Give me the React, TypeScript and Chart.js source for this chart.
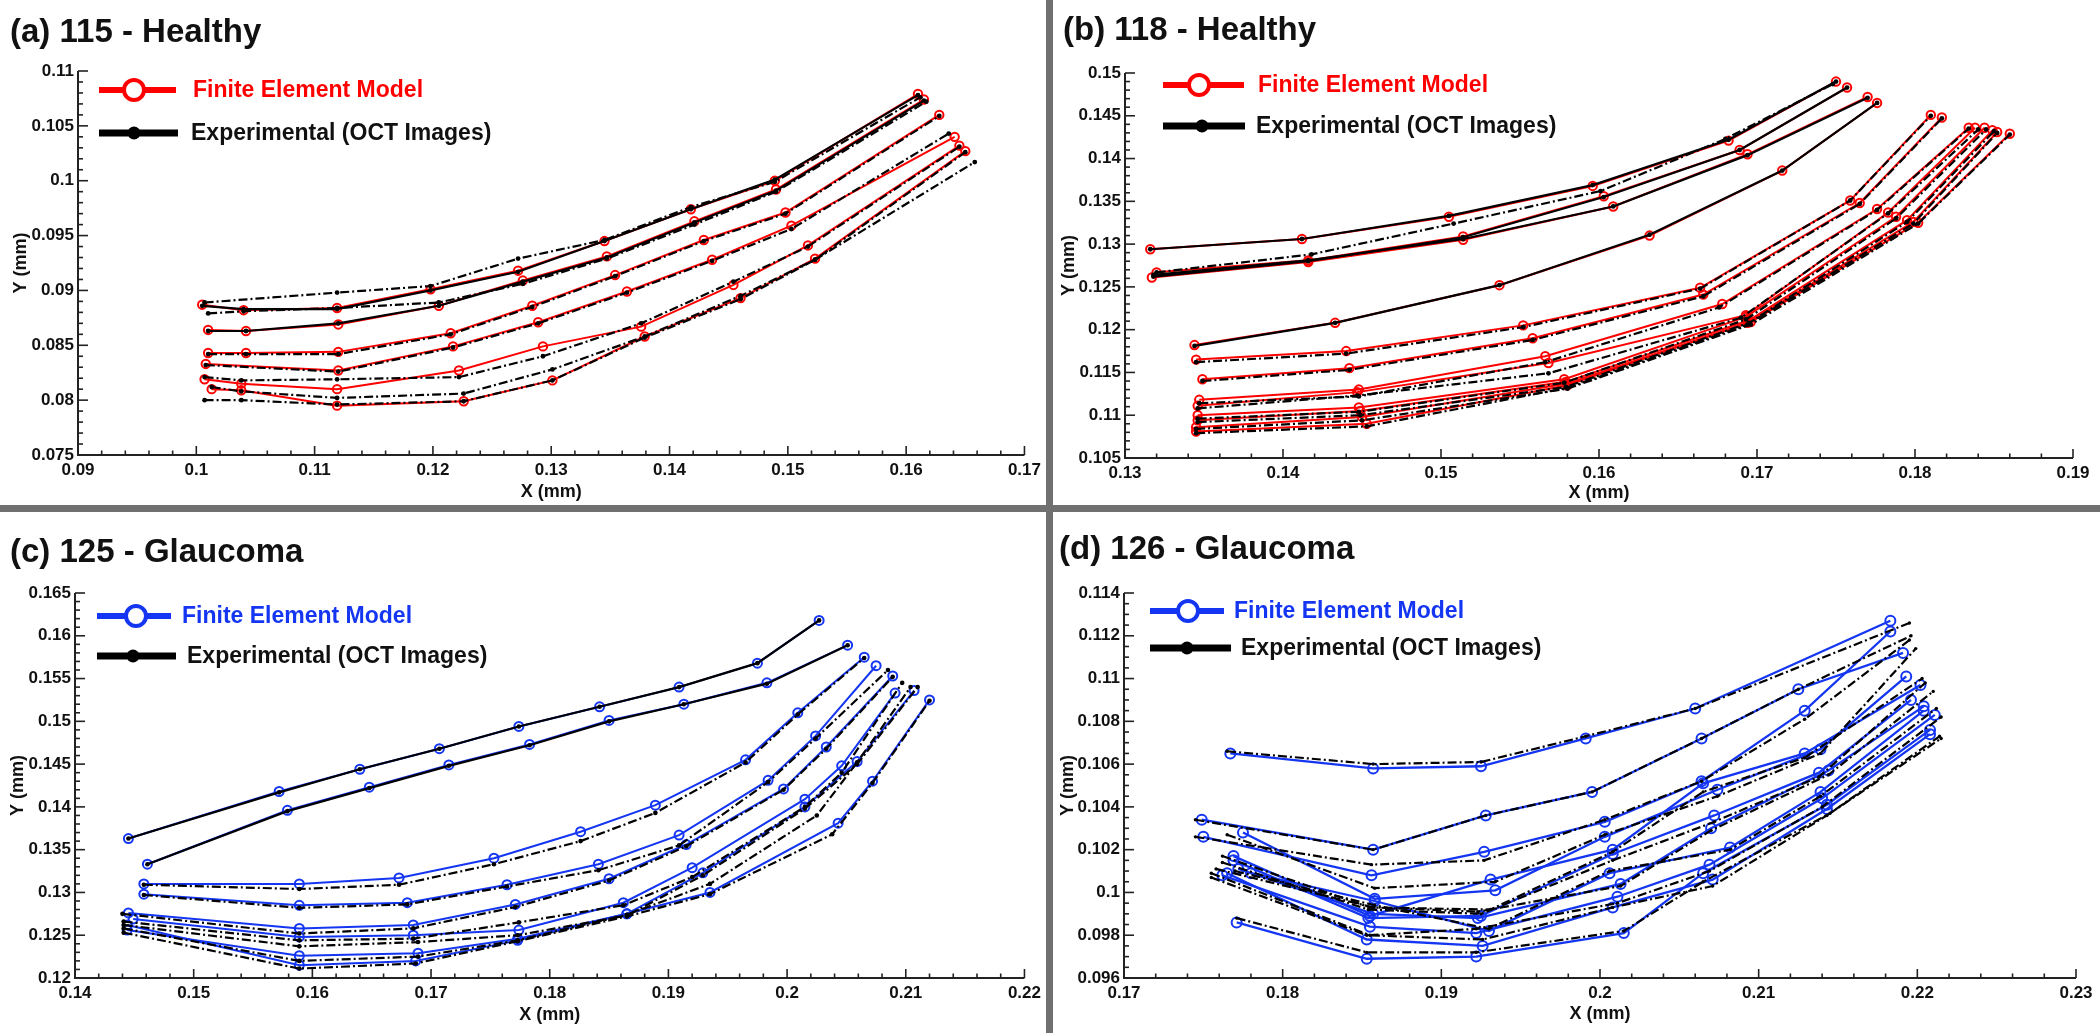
import React, { useEffect, useRef } from "react";
import { Chart, registerables } from "chart.js";

Chart.register(...registerables);

type Pt = [number, number];

// ---------------- (a) 115 - Healthy ----------------
const a115XTicks = [0.09, 0.1, 0.11, 0.12, 0.13, 0.14, 0.15, 0.16, 0.17];
const a115YTicks = [0.075, 0.08, 0.085, 0.09, 0.095, 0.1, 0.105, 0.11];
const a115Model: Pt[][] = [
  [[0.1005, 0.0887], [0.104, 0.0882], [0.1119, 0.0884], [0.1198, 0.0901], [0.1272, 0.0918], [0.1345, 0.0945], [0.1418, 0.0974], [0.1489, 0.1], [0.161, 0.1079]],
  [[0.101, 0.0864], [0.1042, 0.0863], [0.112, 0.0869], [0.1205, 0.0886], [0.1276, 0.0909], [0.1347, 0.0931], [0.1421, 0.0963], [0.149, 0.0992], [0.1615, 0.1074]],
  [[0.101, 0.0843], [0.1042, 0.0843], [0.112, 0.0844], [0.1215, 0.0861], [0.1284, 0.0886], [0.1354, 0.0914], [0.1429, 0.0946], [0.1498, 0.0971], [0.1628, 0.106]],
  [[0.1008, 0.0833], [0.112, 0.0827], [0.1217, 0.0849], [0.1289, 0.0871], [0.1364, 0.0899], [0.1436, 0.0928], [0.1503, 0.0959], [0.1641, 0.104]],
  [[0.1007, 0.0819], [0.1038, 0.0815], [0.1119, 0.081], [0.1222, 0.0827], [0.1293, 0.0849], [0.1376, 0.0867], [0.1454, 0.0905], [0.1517, 0.0941], [0.1645, 0.1032]],
  [[0.1013, 0.081], [0.1038, 0.0809], [0.1119, 0.0795], [0.1226, 0.0799], [0.1301, 0.0818], [0.1379, 0.0858], [0.146, 0.0893], [0.1523, 0.0929], [0.165, 0.1027]],
];
const a115Exp: Pt[][] = [
  [[0.1005, 0.0886], [0.104, 0.0883], [0.1119, 0.0883], [0.1198, 0.09], [0.1272, 0.0917], [0.1345, 0.0945], [0.1418, 0.0974], [0.1489, 0.1001], [0.161, 0.1078]],
  [[0.101, 0.0863], [0.1042, 0.0863], [0.112, 0.087], [0.1205, 0.0886], [0.1276, 0.0908], [0.1347, 0.093], [0.1421, 0.0962], [0.149, 0.0991], [0.1615, 0.1073]],
  [[0.1007, 0.0889], [0.1119, 0.0898], [0.1198, 0.0904], [0.1272, 0.0929], [0.1345, 0.0946], [0.1418, 0.0976], [0.1489, 0.0999], [0.1612, 0.1076]],
  [[0.101, 0.0879], [0.104, 0.0881], [0.1119, 0.0884], [0.1205, 0.0889], [0.1276, 0.0906], [0.1347, 0.0929], [0.1421, 0.096], [0.149, 0.099], [0.1617, 0.1072]],
  [[0.101, 0.0842], [0.1042, 0.0842], [0.112, 0.0842], [0.1215, 0.086], [0.1284, 0.0885], [0.1354, 0.0913], [0.1429, 0.0945], [0.1498, 0.097], [0.1628, 0.1059]],
  [[0.1008, 0.0832], [0.112, 0.0826], [0.1217, 0.0848], [0.1289, 0.087], [0.1364, 0.0898], [0.1436, 0.0927], [0.1503, 0.0956], [0.1636, 0.1043]],
  [[0.1007, 0.0821], [0.1038, 0.0818], [0.1119, 0.0819], [0.1222, 0.0821], [0.1293, 0.084], [0.1376, 0.087], [0.1454, 0.0908], [0.1517, 0.094], [0.1645, 0.1031]],
  [[0.1013, 0.0812], [0.1038, 0.0808], [0.1119, 0.0802], [0.1226, 0.0806], [0.1301, 0.0828], [0.1379, 0.0858], [0.146, 0.0895], [0.1523, 0.0928], [0.1658, 0.1017]],
  [[0.1007, 0.08], [0.1038, 0.08], [0.1119, 0.0796], [0.1226, 0.0799], [0.1301, 0.0818], [0.1379, 0.0857], [0.146, 0.0892], [0.1523, 0.0928], [0.165, 0.1026]],
];

// ---------------- (b) 118 - Healthy ----------------
const b118XTicks = [0.13, 0.14, 0.15, 0.16, 0.17, 0.18, 0.19];
const b118YTicks = [0.105, 0.11, 0.115, 0.12, 0.125, 0.13, 0.135, 0.14, 0.145, 0.15];
const b118Model: Pt[][] = [
  [[0.1316, 0.1294], [0.1412, 0.1306], [0.1505, 0.1332], [0.1596, 0.1368], [0.1682, 0.1421], [0.175, 0.149]],
  [[0.132, 0.1267], [0.1416, 0.1281], [0.1514, 0.1309], [0.1603, 0.1356], [0.1689, 0.141], [0.1757, 0.1483]],
  [[0.1317, 0.1261], [0.1416, 0.1279], [0.1514, 0.1305], [0.1609, 0.1344], [0.1694, 0.1405], [0.177, 0.1472]],
  [[0.1344, 0.1182], [0.1433, 0.1208], [0.1537, 0.1252], [0.1632, 0.131], [0.1716, 0.1386], [0.1776, 0.1465]],
  [[0.1345, 0.1165], [0.144, 0.1175], [0.1552, 0.1205], [0.1664, 0.1249], [0.1759, 0.1351], [0.181, 0.1451]],
  [[0.1349, 0.1142], [0.1442, 0.1155], [0.1558, 0.119], [0.1666, 0.1241], [0.1765, 0.1348], [0.1817, 0.1448]],
  [[0.1347, 0.1118], [0.1448, 0.113], [0.1566, 0.1169], [0.1678, 0.123], [0.1776, 0.1341], [0.1834, 0.1436]],
  [[0.1346, 0.1111], [0.1447, 0.1127], [0.1568, 0.1161], [0.1693, 0.1217], [0.1783, 0.1337], [0.1838, 0.1436]],
  [[0.1346, 0.11], [0.1448, 0.1109], [0.1578, 0.1142], [0.1693, 0.1215], [0.1788, 0.1332], [0.1844, 0.1436]],
  [[0.1346, 0.1094], [0.1449, 0.1105], [0.1579, 0.1139], [0.1695, 0.1211], [0.1795, 0.1328], [0.1849, 0.1433]],
  [[0.1345, 0.1086], [0.145, 0.1098], [0.158, 0.1137], [0.1696, 0.1209], [0.1802, 0.1325], [0.186, 0.1429]],
  [[0.1345, 0.1081], [0.1453, 0.109], [0.158, 0.1135], [0.1694, 0.1208], [0.1799, 0.1326], [0.1852, 0.1431]],
];
const b118Exp: Pt[][] = [
  [[0.1316, 0.1294], [0.1412, 0.1306], [0.1505, 0.1333], [0.1596, 0.1369], [0.1682, 0.1422], [0.175, 0.149]],
  [[0.1318, 0.1262], [0.1416, 0.128], [0.1514, 0.1308], [0.1603, 0.1355], [0.1689, 0.141], [0.1757, 0.1483]],
  [[0.1318, 0.1264], [0.1416, 0.1281], [0.1514, 0.1306], [0.1609, 0.1344], [0.1694, 0.1404], [0.177, 0.1471]],
  [[0.1344, 0.1181], [0.1433, 0.1208], [0.1537, 0.1252], [0.1632, 0.1311], [0.1716, 0.1386], [0.1776, 0.1465]],
  [[0.132, 0.1267], [0.1418, 0.1288], [0.1508, 0.1324], [0.1601, 0.1362], [0.168, 0.1423], [0.1748, 0.1487]],
  [[0.1345, 0.1162], [0.144, 0.1172], [0.1552, 0.1203], [0.1664, 0.1248], [0.1759, 0.1351], [0.181, 0.145]],
  [[0.1349, 0.114], [0.1442, 0.1153], [0.1558, 0.1188], [0.1666, 0.1239], [0.1765, 0.1347], [0.1817, 0.1447]],
  [[0.1347, 0.1114], [0.1448, 0.1122], [0.1566, 0.1162], [0.1676, 0.1226], [0.1776, 0.134], [0.1834, 0.1435]],
  [[0.1346, 0.1108], [0.1447, 0.1123], [0.1568, 0.1149], [0.169, 0.1214], [0.1783, 0.1336], [0.184, 0.1434]],
  [[0.1346, 0.1096], [0.1448, 0.1104], [0.1578, 0.1138], [0.1693, 0.1212], [0.1788, 0.133], [0.1845, 0.1434]],
  [[0.1346, 0.1092], [0.1449, 0.11], [0.1579, 0.1133], [0.1695, 0.1208], [0.1795, 0.1326], [0.185, 0.1432]],
  [[0.1345, 0.1084], [0.145, 0.1094], [0.158, 0.1131], [0.1696, 0.1206], [0.1802, 0.1324], [0.186, 0.1428]],
  [[0.1345, 0.1079], [0.1453, 0.1087], [0.158, 0.1132], [0.1694, 0.1206], [0.1799, 0.1324], [0.1852, 0.143]],
];

// ---------------- (c) 125 - Glaucoma ----------------
const c125XTicks = [0.14, 0.15, 0.16, 0.17, 0.18, 0.19, 0.2, 0.21, 0.22];
const c125YTicks = [0.12, 0.125, 0.13, 0.135, 0.14, 0.145, 0.15, 0.155, 0.16, 0.165];
const c125Model: Pt[][] = [
  [[0.1445, 0.1363], [0.1572, 0.1418], [0.164, 0.1444], [0.1707, 0.1468], [0.1774, 0.1494], [0.1842, 0.1517], [0.1909, 0.154], [0.1975, 0.1568], [0.2027, 0.1618]],
  [[0.1461, 0.1333], [0.1579, 0.1396], [0.1648, 0.1423], [0.1715, 0.1449], [0.1783, 0.1473], [0.185, 0.1501], [0.1913, 0.152], [0.1983, 0.1545], [0.2051, 0.1589]],
  [[0.1458, 0.131], [0.1589, 0.131], [0.1673, 0.1317], [0.1753, 0.134], [0.1826, 0.1371], [0.1889, 0.1402], [0.1965, 0.1455], [0.2009, 0.151], [0.2065, 0.1575]],
  [[0.1458, 0.1298], [0.1589, 0.1285], [0.168, 0.1288], [0.1764, 0.1309], [0.1841, 0.1333], [0.1909, 0.1367], [0.1984, 0.1431], [0.2024, 0.1483], [0.2075, 0.1565]],
  [[0.1445, 0.1276], [0.1589, 0.1258], [0.1685, 0.1262], [0.1771, 0.1286], [0.185, 0.1316], [0.1915, 0.1356], [0.1997, 0.1421], [0.2033, 0.147], [0.2089, 0.1553]],
  [[0.1449, 0.1269], [0.1589, 0.1248], [0.1685, 0.125], [0.1774, 0.1256], [0.1862, 0.1288], [0.192, 0.1329], [0.2015, 0.1409], [0.2046, 0.1448], [0.2091, 0.1533]],
  [[0.1444, 0.1256], [0.1589, 0.1226], [0.1689, 0.1229], [0.1773, 0.1246], [0.1865, 0.1275], [0.1929, 0.1323], [0.2015, 0.14], [0.2059, 0.1453], [0.2107, 0.1536]],
  [[0.1444, 0.1262], [0.1589, 0.1215], [0.1687, 0.122], [0.1773, 0.1244], [0.1865, 0.1275], [0.1935, 0.13], [0.2043, 0.1381], [0.2072, 0.143], [0.212, 0.1525]],
];
const c125Exp: Pt[][] = [
  [[0.1445, 0.1363], [0.1572, 0.1417], [0.164, 0.1444], [0.1707, 0.1468], [0.1774, 0.1494], [0.1842, 0.1517], [0.1909, 0.154], [0.1975, 0.1568], [0.2027, 0.1618]],
  [[0.1461, 0.1333], [0.1579, 0.1395], [0.1648, 0.1422], [0.1715, 0.1448], [0.1783, 0.1472], [0.185, 0.15], [0.1913, 0.152], [0.1983, 0.1544], [0.2051, 0.1589]],
  [[0.1458, 0.1309], [0.1589, 0.1304], [0.1673, 0.1309], [0.1753, 0.1333], [0.1826, 0.136], [0.1889, 0.1393], [0.1965, 0.1452], [0.2009, 0.1508], [0.2065, 0.1574]],
  [[0.1458, 0.1297], [0.1589, 0.1282], [0.168, 0.1286], [0.1764, 0.1307], [0.1841, 0.1326], [0.1909, 0.1355], [0.1984, 0.1429], [0.2024, 0.148], [0.2085, 0.156]],
  [[0.144, 0.1275], [0.1589, 0.1252], [0.1685, 0.1258], [0.1771, 0.1283], [0.185, 0.1314], [0.1915, 0.1354], [0.1997, 0.142], [0.2033, 0.1468], [0.2089, 0.1552]],
  [[0.1441, 0.1266], [0.1589, 0.1244], [0.1685, 0.1246], [0.1774, 0.1265], [0.1862, 0.1285], [0.192, 0.1318], [0.2015, 0.14], [0.2046, 0.144], [0.2097, 0.1545]],
  [[0.1441, 0.1262], [0.1589, 0.1237], [0.1689, 0.1242], [0.1773, 0.125], [0.1865, 0.1273], [0.1929, 0.132], [0.2015, 0.1398], [0.2059, 0.145], [0.211, 0.154]],
  [[0.1441, 0.1253], [0.1589, 0.1211], [0.1687, 0.1217], [0.1773, 0.1243], [0.1865, 0.1272], [0.1935, 0.1298], [0.2038, 0.1368], [0.2072, 0.1428], [0.212, 0.1524]],
  [[0.1441, 0.1258], [0.1589, 0.122], [0.1689, 0.1225], [0.1773, 0.1244], [0.1865, 0.1274], [0.1935, 0.131], [0.2025, 0.139], [0.2059, 0.1452], [0.2104, 0.154]],
];

// ---------------- (d) 126 - Glaucoma ----------------
const d126XTicks = [0.17, 0.18, 0.19, 0.2, 0.21, 0.22, 0.23];
const d126YTicks = [0.096, 0.098, 0.1, 0.102, 0.104, 0.106, 0.108, 0.11, 0.112, 0.114];
const d126Model: Pt[][] = [
  [[0.1767, 0.1065], [0.1857, 0.1058], [0.1925, 0.1059], [0.1991, 0.1072], [0.206, 0.1086], [0.2183, 0.1127]],
  [[0.1749, 0.1034], [0.1857, 0.102], [0.1928, 0.1036], [0.1995, 0.1047], [0.2064, 0.1072], [0.2125, 0.1095], [0.2191, 0.1112]],
  [[0.175, 0.1026], [0.1856, 0.1008], [0.1927, 0.1019], [0.2003, 0.1033], [0.2064, 0.1052], [0.2129, 0.1085], [0.2183, 0.1122]],
  [[0.1775, 0.1028], [0.1858, 0.0997], [0.1934, 0.1001], [0.2003, 0.1026], [0.2074, 0.1048], [0.2139, 0.1067], [0.2193, 0.1101]],
  [[0.1769, 0.1017], [0.1855, 0.0989], [0.1931, 0.1006], [0.2008, 0.102], [0.2065, 0.1051], [0.2129, 0.1065], [0.2202, 0.1097]],
  [[0.1769, 0.1015], [0.1854, 0.0988], [0.1925, 0.0989], [0.2008, 0.1018], [0.2072, 0.1036], [0.2138, 0.1056], [0.2196, 0.109]],
  [[0.1772, 0.1011], [0.1857, 0.099], [0.1923, 0.0988], [0.2013, 0.1004], [0.207, 0.103], [0.2144, 0.1057], [0.2204, 0.1087]],
  [[0.178, 0.1009], [0.1858, 0.0996], [0.193, 0.0982], [0.2006, 0.1009], [0.2082, 0.1021], [0.2139, 0.1047], [0.2204, 0.1085]],
  [[0.1762, 0.1008], [0.1855, 0.0984], [0.1922, 0.0981], [0.2011, 0.0998], [0.2069, 0.1013], [0.214, 0.1044], [0.2211, 0.1083]],
  [[0.1765, 0.1009], [0.1853, 0.0978], [0.1926, 0.0975], [0.2008, 0.0993], [0.2071, 0.1006], [0.2143, 0.1039], [0.2208, 0.1074]],
  [[0.1771, 0.0986], [0.1853, 0.0969], [0.1922, 0.097], [0.2015, 0.0981], [0.2065, 0.1009], [0.2143, 0.1041], [0.2208, 0.1076]],
];
const d126Exp: Pt[][] = [
  [[0.1765, 0.1066], [0.1857, 0.106], [0.1925, 0.1061], [0.1991, 0.1073], [0.206, 0.1086], [0.2195, 0.1126]],
  [[0.1745, 0.1034], [0.1857, 0.102], [0.1928, 0.1036], [0.1995, 0.1047], [0.2064, 0.1072], [0.2125, 0.1095], [0.2196, 0.112]],
  [[0.1745, 0.1026], [0.1856, 0.1013], [0.1927, 0.1015], [0.2003, 0.1034], [0.2064, 0.1052], [0.2129, 0.1081], [0.2195, 0.1118]],
  [[0.1765, 0.1027], [0.1858, 0.1002], [0.1934, 0.1005], [0.2003, 0.1027], [0.2074, 0.1045], [0.2139, 0.1065], [0.2199, 0.1114]],
  [[0.1762, 0.1017], [0.1855, 0.0993], [0.1931, 0.0992], [0.2008, 0.1019], [0.2065, 0.1047], [0.2129, 0.1063], [0.2203, 0.11]],
  [[0.1762, 0.1014], [0.1854, 0.0992], [0.1925, 0.099], [0.2008, 0.1015], [0.2072, 0.1033], [0.2138, 0.1054], [0.2205, 0.1098]],
  [[0.1758, 0.1011], [0.1857, 0.0993], [0.1923, 0.0991], [0.2013, 0.1003], [0.207, 0.1029], [0.2144, 0.1055], [0.221, 0.1094]],
  [[0.177, 0.101], [0.1858, 0.0994], [0.193, 0.0983], [0.2006, 0.101], [0.2082, 0.102], [0.2139, 0.1045], [0.2212, 0.1086]],
  [[0.1755, 0.1009], [0.1855, 0.098], [0.1922, 0.0983], [0.2011, 0.0995], [0.2069, 0.101], [0.214, 0.104], [0.2215, 0.1082]],
  [[0.1755, 0.1007], [0.1853, 0.098], [0.1926, 0.0978], [0.2008, 0.0993], [0.2071, 0.1003], [0.2143, 0.1036], [0.2214, 0.1073]],
  [[0.1771, 0.0988], [0.1853, 0.0972], [0.1922, 0.0972], [0.2015, 0.0982], [0.2065, 0.1005], [0.2145, 0.1037], [0.2215, 0.1072]],
];

const MODEL_LABEL = "Finite Element Model";
const EXP_LABEL = "Experimental (OCT Images)";

// ---------------- layout / style ----------------
const FONT = "'Liberation Sans', Arial, Helvetica, sans-serif";
const RED = "#ff0000";
const BLUE = "#1436f2";
const DIVIDER = "#707070";

interface Spec {
  title: string;
  left: number; top: number; width: number; height: number;
  area: { l: number; r: number; t: number; b: number };
  xTicks: number[]; yTicks: number[]; xMinor: number; yMinor: number;
  model: Pt[][]; exp: Pt[][]; expSolid: number;
  color: string;
  titleX: number; titleBase: number;
  xTitlePad: number; yTitlePad: number;
  modelR: number; expR: number; modelW: number;
  leg: { x0: number; x1: number; cx: number; y1: number; t1: number; x1e: number; dx: number; y2: number; t2: number };
}

const specs: Spec[] = [
  {
    title: "(a) 115 - Healthy", left: 0, top: 0, width: 1046, height: 505,
    area: { l: 78, r: 1025, t: 71, b: 455 },
    xTicks: a115XTicks, yTicks: a115YTicks, xMinor: 5, yMinor: 5,
    model: a115Model, exp: a115Exp, expSolid: 2, color: RED,
    titleX: 10, titleBase: 42, xTitlePad: 2, yTitlePad: 10, modelR: 4.2, expR: 2.4, modelW: 2,
    leg: { x0: 21, x1: 98, cx: 56, y1: 19, t1: 115, x1e: 100, dx: 56, y2: 62, t2: 113 },
  },
  {
    title: "(b) 118 - Healthy", left: 1053, top: 0, width: 1047, height: 505,
    area: { l: 72, r: 1020, t: 73, b: 458 },
    xTicks: b118XTicks, yTicks: b118YTicks, xMinor: 5, yMinor: 5,
    model: b118Model, exp: b118Exp, expSolid: 4, color: RED,
    titleX: 10, titleBase: 40, xTitlePad: 1, yTitlePad: 5, modelR: 4.2, expR: 2.4, modelW: 2,
    leg: { x0: 38, x1: 119, cx: 74, y1: 12, t1: 133, x1e: 120, dx: 77, y2: 53, t2: 131 },
  },
  {
    title: "(c) 125 - Glaucoma", left: 0, top: 512, width: 1046, height: 521,
    area: { l: 75, r: 1025, t: 81, b: 466 },
    xTicks: c125XTicks, yTicks: c125YTicks, xMinor: 5, yMinor: 5,
    model: c125Model, exp: c125Exp, expSolid: 2, color: BLUE,
    titleX: 10, titleBase: 50, xTitlePad: 7, yTitlePad: 7, modelR: 4.5, expR: 2.3, modelW: 2,
    leg: { x0: 22, x1: 96, cx: 61, y1: 23, t1: 107, x1e: 101, dx: 58, y2: 63, t2: 112 },
  },
  {
    title: "(d) 126 - Glaucoma", left: 1053, top: 512, width: 1047, height: 521,
    area: { l: 71, r: 1023, t: 81, b: 466 },
    xTicks: d126XTicks, yTicks: d126YTicks, xMinor: 5, yMinor: 4,
    model: d126Model, exp: d126Exp, expSolid: 0, color: BLUE,
    titleX: 6, titleBase: 47, xTitlePad: 8, yTitlePad: 4, modelR: 5, expR: 1.7, modelW: 2.3,
    leg: { x0: 26, x1: 100, cx: 64, y1: 18, t1: 110, x1e: 107, dx: 63, y2: 55, t2: 117 },
  },
];

const fmt = (v: number | string) => String(parseFloat(Number(v).toFixed(4)));

function makeDecor(spec: Spec) {
  return {
    id: "decor",
    afterDraw(chart: any) {
      const { ctx, chartArea: ca, scales } = chart;
      const xs = scales.x;
      const ys = scales.y;
      ctx.save();
      const seg = (x1: number, y1: number, x2: number, y2: number) => {
        ctx.beginPath();
        ctx.moveTo(x1, y1);
        ctx.lineTo(x2, y2);
        ctx.stroke();
      };
      // axes
      ctx.strokeStyle = "#222";
      ctx.lineWidth = 2;
      ctx.beginPath();
      ctx.moveTo(ca.left, ca.top);
      ctx.lineTo(ca.left, ca.bottom);
      ctx.lineTo(ca.right, ca.bottom);
      ctx.stroke();
      ctx.lineWidth = 1.6;
      const xt = spec.xTicks;
      for (let i = 0; i < xt.length; i++) {
        const p = xs.getPixelForValue(xt[i]);
        seg(p, ca.bottom, p, ca.bottom - 9);
        if (i < xt.length - 1) {
          for (let k = 1; k < spec.xMinor; k++) {
            const q = xs.getPixelForValue(xt[i] + ((xt[i + 1] - xt[i]) * k) / spec.xMinor);
            seg(q, ca.bottom, q, ca.bottom - 4.5);
          }
        }
      }
      const yt = spec.yTicks;
      for (let i = 0; i < yt.length; i++) {
        const p = ys.getPixelForValue(yt[i]);
        seg(ca.left, p, ca.left + 10, p);
        if (i < yt.length - 1) {
          for (let k = 1; k < spec.yMinor; k++) {
            const q = ys.getPixelForValue(yt[i] + ((yt[i + 1] - yt[i]) * k) / spec.yMinor);
            seg(ca.left, q, ca.left + 5, q);
          }
        }
      }
      // title
      ctx.fillStyle = "#111";
      ctx.font = `bold 33px ${FONT}`;
      ctx.textBaseline = "alphabetic";
      ctx.textAlign = "left";
      ctx.fillText(spec.title, spec.titleX, spec.titleBase);
      // legend
      const L = spec.leg;
      const y1 = ca.top + L.y1;
      const y2 = ca.top + L.y2;
      ctx.strokeStyle = spec.color;
      ctx.lineWidth = 6;
      seg(ca.left + L.x0, y1, ca.left + L.x1, y1);
      ctx.beginPath();
      ctx.arc(ca.left + L.cx, y1, 10, 0, Math.PI * 2);
      ctx.fillStyle = "#fff";
      ctx.fill();
      ctx.lineWidth = 4;
      ctx.stroke();
      ctx.font = `bold 23px ${FONT}`;
      ctx.textBaseline = "middle";
      ctx.fillStyle = spec.color;
      ctx.fillText(MODEL_LABEL, ca.left + L.t1, y1 + 1);
      ctx.strokeStyle = "#000";
      ctx.lineWidth = 7;
      seg(ca.left + L.x0, y2, ca.left + L.x1e, y2);
      ctx.beginPath();
      ctx.arc(ca.left + L.dx, y2, 6.5, 0, Math.PI * 2);
      ctx.fillStyle = "#000";
      ctx.fill();
      ctx.fillStyle = "#111";
      ctx.fillText(EXP_LABEL, ca.left + L.t2, y2 + 1);
      ctx.restore();
    },
  };
}

function Panel({ spec }: { spec: Spec }) {
  const ref = useRef<HTMLCanvasElement | null>(null);
  useEffect(() => {
    if (!ref.current) return;
    const datasets: any[] = [];
    spec.exp.forEach((curve, i) => {
      datasets.push({
        data: curve.map(([x, y]) => ({ x, y })),
        showLine: true,
        borderColor: "#000",
        backgroundColor: "#000",
        borderWidth: 2.2,
        borderDash: i < spec.expSolid ? [] : [9, 3, 2, 3],
        pointRadius: spec.expR,
        pointBorderWidth: 0,
        pointBackgroundColor: "#000",
        tension: 0,
        order: 0,
      });
    });
    spec.model.forEach((curve) => {
      datasets.push({
        data: curve.map(([x, y]) => ({ x, y })),
        showLine: true,
        borderColor: spec.color,
        backgroundColor: "rgba(255,255,255,0)",
        borderWidth: spec.modelW,
        pointRadius: spec.modelR,
        pointBorderWidth: 2,
        pointBorderColor: spec.color,
        pointBackgroundColor: "rgba(255,255,255,0)",
        tension: 0,
        order: 1,
      });
    });
    const tickFont = { family: FONT, size: 17, weight: "bold" as const };
    const titleFont = { family: FONT, size: 18, weight: "bold" as const };
    const chart = new Chart(ref.current, {
      type: "scatter",
      data: { datasets },
      options: {
        responsive: false,
        animation: false,
        devicePixelRatio: 1,
        layout: { padding: { left: 0, top: spec.area.t, right: spec.width - spec.area.r, bottom: 0 } },
        plugins: { legend: { display: false }, tooltip: { enabled: false } },
        scales: {
          x: {
            type: "linear",
            min: spec.xTicks[0],
            max: spec.xTicks[spec.xTicks.length - 1],
            afterBuildTicks: (s: any) => {
              s.ticks = spec.xTicks.map((v) => ({ value: v }));
            },
            afterFit: (s: any) => {
              s.height = spec.height - spec.area.b;
            },
            grid: { display: false, drawTicks: false },
            border: { display: false },
            ticks: { autoSkip: false, maxRotation: 0, padding: 5, color: "#111", font: tickFont, callback: (v: any) => fmt(v) },
            title: { display: true, text: "X (mm)", color: "#111", font: titleFont, padding: { top: 0, bottom: spec.xTitlePad } },
          },
          y: {
            type: "linear",
            min: spec.yTicks[0],
            max: spec.yTicks[spec.yTicks.length - 1],
            afterBuildTicks: (s: any) => {
              s.ticks = spec.yTicks.map((v) => ({ value: v }));
            },
            afterFit: (s: any) => {
              s.width = spec.area.l;
            },
            grid: { display: false, drawTicks: false },
            border: { display: false },
            ticks: { autoSkip: false, padding: 4, color: "#111", font: tickFont, callback: (v: any) => fmt(v) },
            title: { display: true, text: "Y (mm)", color: "#111", font: titleFont, padding: { top: spec.yTitlePad, bottom: 0 } },
          },
        },
      } as any,
      plugins: [makeDecor(spec)],
    });
    return () => chart.destroy();
  }, [spec]);
  return (
    <canvas
      ref={ref}
      width={spec.width}
      height={spec.height}
      style={{ position: "absolute", left: spec.left, top: spec.top, width: spec.width, height: spec.height, display: "block" }}
    />
  );
}

export default function App() {
  return (
    <div style={{ position: "relative", width: 2100, height: 1033, background: "#fff", overflow: "hidden" }}>
      <style>{"body{margin:0;background:#fff}"}</style>
      {specs.map((s) => (
        <Panel key={s.title} spec={s} />
      ))}
      <div style={{ position: "absolute", left: 1046, top: 0, width: 7, height: 1033, background: DIVIDER }} />
      <div style={{ position: "absolute", left: 0, top: 505, width: 2100, height: 7, background: DIVIDER }} />
    </div>
  );
}
